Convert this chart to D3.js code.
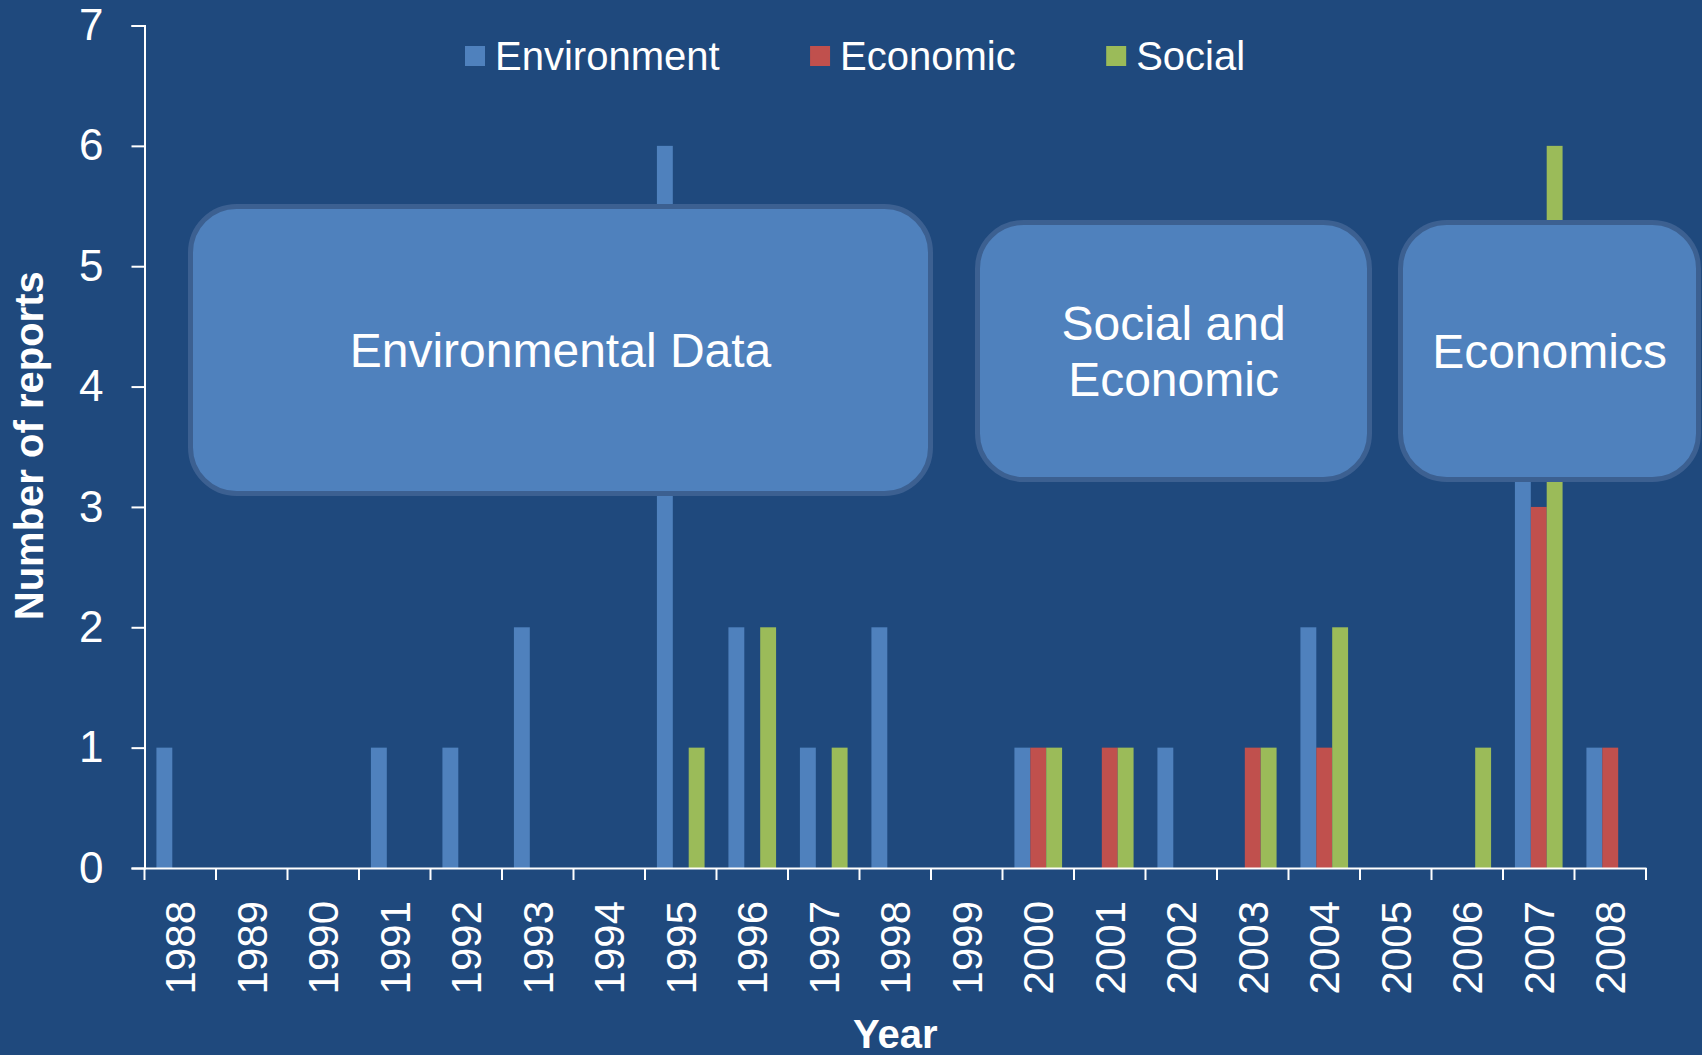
<!DOCTYPE html>
<html>
<head>
<meta charset="utf-8">
<script src="https://cdn.jsdelivr.net/npm/d3@7"></script>
<style>
  html, body { margin: 0; padding: 0; background: #1f497d; }
  svg { display: block; }
</style>
</head>
<body>
<svg id="chart"></svg>
<script>
// data
const years = ["1988","1989","1990","1991","1992","1993","1994","1995","1996","1997","1998",
               "1999","2000","2001","2002","2003","2004","2005","2006","2007","2008"];
const series = ["Environment", "Economic", "Social"];
const environment = [1,0,0,1,1,2,0,6,2,1,2,0,1,0,1,0,2,0,0,4,1];
const economic    = [0,0,0,0,0,0,0,0,0,0,0,0,1,1,0,1,1,0,0,3,1];
const social      = [0,0,0,0,0,0,0,1,2,1,0,0,1,1,0,1,2,0,1,6,0];
const yTicks = [0,1,2,3,4,5,6,7];
const callouts = [["Environmental Data"], ["Social and", "Economic"], ["Economics"]];

const width = 1702, height = 1055;
const bg_color = "#1f497d", text_color = "#ffffff";
const colors = { Environment: "#4f81bd", Economic: "#c0504d", Social: "#9bbb59" };
const box_fill = "#4f81bd", box_stroke = "#3c6091";
const font_family = "'Liberation Sans', Arial, Helvetica, sans-serif";

const svg = d3.select("#chart")
  .attr("width", width)
  .attr("height", height)
  .style("background", bg_color);

const plot = { left: 144.5, right: 1646, top: 25.5, bottom: 868 };

////////////////////////////////////
//            Scales              //
////////////////////////////////////

const x0 = d3.scaleBand()
  .domain(years)
  .range([plot.left, plot.right]);

// excel style gap width 150%
const x1 = d3.scaleBand()
  .domain(series)
  .range([0, x0.bandwidth()])
  .paddingOuter(0.75);

const y = d3.scaleLinear()
  .domain([0, 7])
  .range([plot.bottom, plot.top]);

const rows = years.map((yr, i) => ({
  year: yr,
  values: [
    { key: "Environment", value: environment[i] },
    { key: "Economic", value: economic[i] },
    { key: "Social", value: social[i] }
  ]
}));

////////////////////////////////////
//             Bars               //
////////////////////////////////////

svg.append("g")
  .selectAll("g")
  .data(rows)
  .join("g")
  .attr("transform", d => `translate(${x0(d.year)},0)`)
  .selectAll("rect")
  .data(d => d.values.filter(v => v.value > 0))
  .join("rect")
  .attr("x", d => x1(d.key))
  .attr("width", x1.bandwidth())
  .attr("y", d => y(d.value))
  .attr("height", d => y(0) - y(d.value))
  .attr("fill", d => colors[d.key]);

////////////////////////////////////
//             Axes               //
////////////////////////////////////

const yAxis = svg.append("g")
  .attr("transform", `translate(${plot.left},0)`)
  .call(d3.axisLeft(y).tickValues(yTicks).tickSize(13).tickPadding(28).tickFormat(d3.format("d")));
yAxis.select(".domain").attr("stroke", text_color).attr("stroke-width", 2);
yAxis.selectAll(".tick line").attr("stroke", text_color).attr("stroke-width", 2);
yAxis.selectAll(".tick text")
  .attr("fill", text_color)
  .attr("font-family", font_family)
  .attr("font-size", "44px");

const xAxis = svg.append("g")
  .attr("transform", `translate(0,${plot.bottom})`)
  .call(d3.axisBottom(x0).tickSize(0).tickPadding(0));
xAxis.select(".domain").attr("stroke", text_color).attr("stroke-width", 2);
xAxis.selectAll(".tick text")
  .attr("fill", text_color)
  .attr("font-family", font_family)
  .attr("font-size", "42px")
  .attr("text-anchor", "end")
  .attr("transform", "translate(0,33) rotate(-90)")
  .attr("x", 0)
  .attr("y", 0)
  .attr("dy", "0.36em");

// ticks between categories
const boundaries = years.map(d => x0(d)).concat([x0.range()[1]]);
xAxis.selectAll(".bound")
  .data(boundaries)
  .join("line")
  .attr("class", "bound")
  .attr("x1", d => d).attr("x2", d => d)
  .attr("y1", 0).attr("y2", 12)
  .attr("stroke", text_color)
  .attr("stroke-width", 2);

// axis titles
svg.append("text")
  .attr("transform", `translate(43,${(plot.top + plot.bottom) / 2 - 1}) rotate(-90)`)
  .attr("text-anchor", "middle")
  .attr("font-family", font_family)
  .attr("font-size", "40px")
  .attr("font-weight", "bold")
  .attr("fill", text_color)
  .text("Number of reports");

svg.append("text")
  .attr("x", (plot.left + plot.right) / 2)
  .attr("y", 1048)
  .attr("text-anchor", "middle")
  .attr("font-family", font_family)
  .attr("font-size", "40px")
  .attr("font-weight", "bold")
  .attr("fill", text_color)
  .text("Year");

////////////////////////////////////
//            Legend              //
////////////////////////////////////

const legend = svg.append("g");
let lx = 465;
series.forEach(s => {
  legend.append("rect")
    .attr("x", lx).attr("y", 46)
    .attr("width", 20).attr("height", 20)
    .attr("fill", colors[s]);
  const t = legend.append("text")
    .attr("x", lx + 30).attr("y", 70)
    .attr("font-family", font_family)
    .attr("font-size", "40px")
    .attr("fill", text_color)
    .text(s);
  lx += 30 + t.node().getComputedTextLength() + 90.5;
});

////////////////////////////////////
//          Callout boxes         //
////////////////////////////////////

const boxLayout = [
  { x: 190.5, y: 206.5, w: 740, h: 287 },
  { x: 977.5, y: 222.5, w: 392, h: 257 },
  { x: 1400.5, y: 222.5, w: 298, h: 257 }
];

callouts.forEach((lines, i) => {
  const b = boxLayout[i];
  svg.append("rect")
    .attr("x", b.x).attr("y", b.y)
    .attr("width", b.w).attr("height", b.h)
    .attr("rx", 46).attr("ry", 46)
    .attr("fill", box_fill)
    .attr("stroke", box_stroke)
    .attr("stroke-width", 5);
  const lineH = 56;
  const cy = b.y + b.h / 2;
  const t = svg.append("text")
    .attr("text-anchor", "middle")
    .attr("font-family", font_family)
    .attr("font-size", "48px")
    .attr("fill", text_color);
  lines.forEach((ln, j) => {
    t.append("tspan")
      .attr("x", b.x + b.w / 2)
      .attr("y", cy + (j - (lines.length - 1) / 2) * lineH)
      .attr("dy", "0.36em")
      .text(ln);
  });
});
</script>
</body>
</html>
